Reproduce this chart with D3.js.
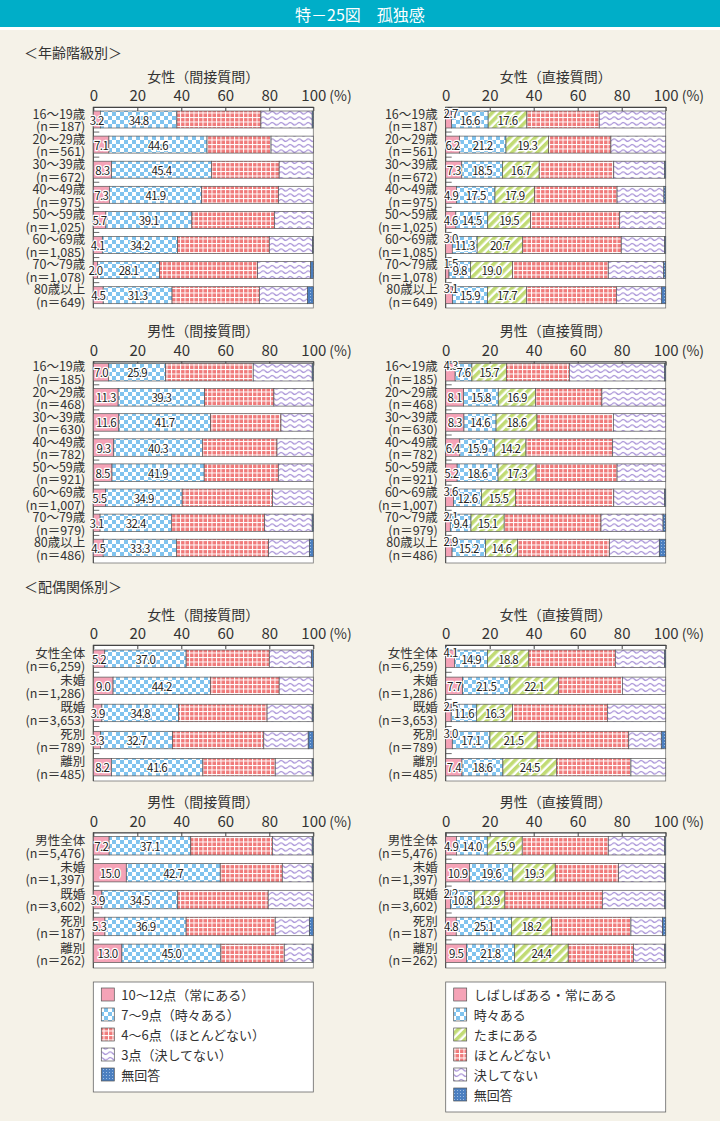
<!DOCTYPE html>
<html>
<head>
<meta charset="utf-8">
<script src="https://cdn.jsdelivr.net/npm/d3@7"></script>
<style>
  body { margin: 0; background: #f5f2e8; }
  svg { display: block; font-family: "Noto Sans CJK JP", "Noto Sans", sans-serif; }
</style>
</head>
<body>
<div id="chart"></div>
<script>
// ---- data ----
const ageCats = ["16～19歳", "20～29歳", "30～39歳", "40～49歳", "50～59歳", "60～69歳", "70～79歳", "80歳以上"];
const fAgeN = ["187", "561", "672", "975", "1,025", "1,085", "1,078", "649"];
const mAgeN = ["185", "468", "630", "782", "921", "1,007", "979", "486"];
const fMarCats = ["女性全体", "未婚", "既婚", "死別", "離別"];
const mMarCats = ["男性全体", "未婚", "既婚", "死別", "離別"];
const fMarN = ["6,259", "1,286", "3,653", "789", "485"];
const mMarN = ["5,476", "1,397", "3,602", "187", "262"];

const indKeys = ["10～12点（常にある）", "7～9点（時々ある）", "4～6点（ほとんどない）", "3点（決してない）", "無回答"];
const dirKeys = ["しばしばある・常にある", "時々ある", "たまにある", "ほとんどない", "決してない", "無回答"];
const ticks = [0, 20, 40, 60, 80, 100];

// rows: one array per category, values in key order (%)
const fIndAge = [
  [3.2, 34.8, 38.2, 23.3, 0.5],
  [7.1, 44.6, 29.1, 19.2, 0.0],
  [8.3, 45.4, 30.8, 15.5, 0.0],
  [7.3, 41.9, 35.0, 15.8, 0.0],
  [5.7, 39.1, 37.5, 17.7, 0.0],
  [4.1, 34.2, 41.7, 19.6, 0.4],
  [2.0, 28.1, 44.6, 24.1, 1.2],
  [4.5, 31.3, 39.7, 21.8, 2.7]
];
const fDirAge = [
  [2.7, 16.6, 17.6, 32.9, 30.2, 0.0],
  [6.2, 21.2, 19.3, 28.4, 24.9, 0.0],
  [7.3, 18.5, 16.7, 33.9, 23.0, 0.6],
  [4.9, 17.5, 17.9, 37.6, 21.3, 0.8],
  [4.6, 14.5, 19.5, 40.5, 20.9, 0.0],
  [3.0, 11.3, 20.7, 44.8, 19.7, 0.5],
  [1.5, 9.8, 19.0, 43.6, 25.2, 0.9],
  [3.1, 15.9, 17.7, 40.9, 20.6, 1.8]
];
const mIndAge = [
  [7.0, 25.9, 39.8, 26.8, 0.5],
  [11.3, 39.3, 31.5, 17.9, 0.0],
  [11.6, 41.7, 32.0, 14.7, 0.0],
  [9.3, 40.3, 33.9, 16.5, 0.0],
  [8.5, 41.9, 33.7, 15.9, 0.0],
  [5.5, 34.9, 41.1, 18.5, 0.0],
  [3.1, 32.4, 42.4, 21.6, 0.5],
  [4.5, 33.3, 41.9, 18.5, 1.8]
];
const mDirAge = [
  [4.3, 7.6, 15.7, 28.6, 43.2, 0.6],
  [8.1, 15.8, 16.9, 30.2, 29.0, 0.0],
  [8.3, 14.6, 18.6, 34.7, 23.8, 0.0],
  [6.4, 15.9, 14.2, 39.4, 24.1, 0.0],
  [5.2, 18.6, 17.3, 36.8, 22.1, 0.0],
  [3.6, 12.6, 15.5, 44.7, 23.0, 0.6],
  [2.1, 9.4, 15.1, 44.0, 28.2, 1.2],
  [2.9, 15.2, 14.6, 41.7, 22.7, 2.9]
];
const fIndMar = [
  [5.2, 37.0, 37.8, 19.1, 0.9],
  [9.0, 44.2, 31.3, 15.5, 0.0],
  [3.9, 34.8, 40.3, 20.5, 0.5],
  [3.3, 32.7, 41.5, 20.2, 2.3],
  [8.2, 41.6, 32.9, 16.8, 0.5]
];
const fDirMar = [
  [4.1, 14.9, 18.8, 39.3, 22.3, 0.6],
  [7.7, 21.5, 22.1, 29.0, 19.7, 0.0],
  [2.5, 11.6, 16.3, 43.1, 26.5, 0.0],
  [3.0, 17.1, 21.5, 41.6, 14.8, 2.0],
  [7.4, 18.6, 24.5, 33.7, 15.8, 0.0]
];
const mIndMar = [
  [7.2, 37.1, 37.1, 18.1, 0.5],
  [15.0, 42.7, 28.2, 13.6, 0.5],
  [3.9, 34.5, 41.1, 20.5, 0.0],
  [5.3, 36.9, 40.5, 15.5, 1.8],
  [13.0, 45.0, 28.8, 12.7, 0.5]
];
const mDirMar = [
  [4.9, 14.0, 15.9, 39.1, 25.5, 0.6],
  [10.9, 19.6, 19.3, 28.8, 20.8, 0.6],
  [2.2, 10.8, 13.9, 44.3, 28.2, 0.6],
  [4.8, 25.1, 18.2, 36.1, 14.3, 1.5],
  [9.5, 21.8, 24.4, 29.6, 14.2, 0.5]
];

// ---- layout ----
const LX = 93.3, RX = 445.7, PW = 220;
const bands = {
  age1: { axisY: 107, top: 111, step: 25.1, barH: 17, bottom: 308, titleY: 76 },
  age2: { axisY: 361.5, top: 363.5, step: 25.1, barH: 17.5, bottom: 563, titleY: 330 },
  mar1: { axisY: 645, top: 650, step: 27.1, barH: 17.5, bottom: 781, titleY: 614 },
  mar2: { axisY: 832.5, top: 836.5, step: 26.9, barH: 18.5, bottom: 968, titleY: 801 }
};
const panels = [
  { title: "女性（間接質問）", cats: ageCats, n: fAgeN, rows: fIndAge, type: "ind", x0: LX, b: bands.age1 },
  { title: "女性（直接質問）", cats: ageCats, n: fAgeN, rows: fDirAge, type: "dir", x0: RX, b: bands.age1 },
  { title: "男性（間接質問）", cats: ageCats, n: mAgeN, rows: mIndAge, type: "ind", x0: LX, b: bands.age2 },
  { title: "男性（直接質問）", cats: ageCats, n: mAgeN, rows: mDirAge, type: "dir", x0: RX, b: bands.age2 },
  { title: "女性（間接質問）", cats: fMarCats, n: fMarN, rows: fIndMar, type: "ind", x0: LX, b: bands.mar1 },
  { title: "女性（直接質問）", cats: fMarCats, n: fMarN, rows: fDirMar, type: "dir", x0: RX, b: bands.mar1 },
  { title: "男性（間接質問）", cats: mMarCats, n: mMarN, rows: mIndMar, type: "ind", x0: LX, b: bands.mar2 },
  { title: "男性（直接質問）", cats: mMarCats, n: mMarN, rows: mDirMar, type: "dir", x0: RX, b: bands.mar2 }
];
const patInd = ["pink", "blue", "red", "wave", "na"];
const patDir = ["pink", "blue", "green", "red", "wave", "na"];

const svg = d3.select("#chart").append("svg")
  .attr("width", 720).attr("height", 1121);

svg.append("rect").attr("width", 720).attr("height", 1121).attr("fill", "#f5f2e8");

// ---- patterns ----
const defs = svg.append("defs");
function pattern(id, w, h) {
  return defs.append("pattern").attr("id", id)
    .attr("patternUnits", "userSpaceOnUse").attr("width", w).attr("height", h);
}
pattern("pink", 4, 4).append("rect").attr("width", 4).attr("height", 4).attr("fill", "#f5a3b7");

let p = pattern("blue", 8, 8);
p.append("rect").attr("width", 8).attr("height", 8).attr("fill", "#ffffff");
p.append("rect").attr("width", 4).attr("height", 4).attr("fill", "#80c3ee");
p.append("rect").attr("x", 4).attr("y", 4).attr("width", 4).attr("height", 4).attr("fill", "#80c3ee");

p = pattern("green", 6, 6).attr("patternTransform", "rotate(45)");
p.append("rect").attr("width", 6).attr("height", 6).attr("fill", "#ffffff");
p.append("rect").attr("width", 3.6).attr("height", 6).attr("fill", "#c1db74");

p = pattern("red", 4.5, 4.5);
p.append("rect").attr("width", 4.5).attr("height", 4.5).attr("fill", "#f07a7a");
p.append("rect").attr("width", 4.5).attr("height", 1).attr("fill", "#ffffff");
p.append("rect").attr("width", 1).attr("height", 4.5).attr("fill", "#ffffff");

p = pattern("wave", 9, 5.5);
p.append("rect").attr("width", 9).attr("height", 5.5).attr("fill", "#ffffff");
p.append("path").attr("d", "M0,2.75 Q2.25,0.3 4.5,2.75 T9,2.75")
  .attr("fill", "none").attr("stroke", "#a189d4").attr("stroke-width", 1.1);

p = pattern("na", 3, 3);
p.append("rect").attr("width", 3).attr("height", 3).attr("fill", "#4b7fc0");
p.append("circle").attr("cx", 1.5).attr("cy", 1.5).attr("r", 0.5).attr("fill", "#b9d2ee");

// ---- header ----
svg.append("rect").attr("width", 720).attr("height", 27).attr("fill", "#00aec8");
svg.append("rect").attr("y", 27).attr("width", 720).attr("height", 3).attr("fill", "#ffffff");
svg.append("text").attr("x", 360).attr("y", 14).attr("text-anchor", "middle")
  .attr("dominant-baseline", "central").attr("fill", "#fff")
  .style("font-size", "16px").text("特－25図　孤独感");

// section labels
svg.append("text").attr("x", 24).attr("y", 52).attr("dominant-baseline", "central")
  .style("font-size", "14px").attr("fill", "#333").text("＜年齢階級別＞");
svg.append("text").attr("x", 24).attr("y", 586).attr("dominant-baseline", "central")
  .style("font-size", "14px").attr("fill", "#333").text("＜配偶関係別＞");

// ---- panels ----
panels.forEach(drawPanel);

function drawPanel(pn) {
  const b = pn.b;
  const keys = pn.type === "ind" ? patInd : patDir;
  const nLabel = pn.type === "ind" ? 2 : 3;
  const x = d3.scaleLinear().domain([0, 100]).range([pn.x0, pn.x0 + PW]);
  const y = d3.scaleBand().domain(pn.cats)
    .range([b.top, b.top + pn.cats.length * b.step]);
  const g = svg.append("g");

  // plot frame
  g.append("rect")
    .attr("x", x(0)).attr("y", b.axisY)
    .attr("width", x(100) - x(0)).attr("height", b.bottom - b.axisY)
    .attr("fill", "#fff").attr("stroke", "#777").attr("stroke-width", 0.8);

  // title
  g.append("text").attr("x", (x(0) + x(100)) / 2).attr("y", b.titleY)
    .attr("text-anchor", "middle").attr("dominant-baseline", "central")
    .style("font-size", "14px").attr("fill", "#333").text(pn.title);

  // top axis
  const ax = g.append("g").attr("transform", `translate(0,${b.axisY})`)
    .call(d3.axisTop(x).tickValues(ticks).tickSizeInner(-4).tickSizeOuter(0).tickPadding(6));
  ax.select(".domain").attr("stroke", "#444");
  ax.selectAll(".tick line").attr("stroke", "#444");
  ax.selectAll(".tick text").attr("fill", "#333")
    .style("font-size", "15px").style("font-family", "Noto Sans CJK JP, sans-serif");
  g.append("text").attr("x", x(100) + 16).attr("y", b.axisY - 6)
    .style("font-size", "14px").attr("fill", "#333").text("(%)");

  // left axis line + row ticks
  g.append("line").attr("x1", x(0)).attr("x2", x(0))
    .attr("y1", b.axisY).attr("y2", b.bottom).attr("stroke", "#444");
  pn.cats.slice(1).forEach(c => {
    const ty = y(c) - (b.step - b.barH) / 2;
    g.append("line").attr("x1", x(0)).attr("x2", x(0) + 6)
      .attr("y1", ty).attr("y2", ty).attr("stroke", "#444").attr("stroke-width", 0.8);
  });

  // category labels (one text, two lines)
  pn.cats.forEach((c, i) => {
    const cy = y(c) + b.barH / 2;
    const t = g.append("text").attr("text-anchor", "end")
      .style("font-size", "12.5px").attr("fill", "#333");
    t.append("tspan").attr("x", x(0) - 8).attr("y", cy - 6.3)
      .attr("dominant-baseline", "central").text(c);
    t.append("tspan").attr("x", x(0) - 8).attr("y", cy + 6.3)
      .attr("dominant-baseline", "central").text(`(n＝${pn.n[i]})`);
  });

  // stacked bars
  const stack = d3.stack().keys(d3.range(keys.length));
  const series = stack(pn.rows);
  series.forEach((s, k) => {
    s.forEach((seg, j) => {
      const [a, e] = seg;
      if (e - a <= 0) return;
      g.append("rect")
        .attr("x", x(a)).attr("y", y(pn.cats[j]))
        .attr("width", x(e) - x(a)).attr("height", b.barH)
        .attr("fill", `url(#${keys[k]})`)
        .attr("stroke", "#555").attr("stroke-width", 0.7);
    });
  });

  // value labels
  series.slice(0, nLabel).forEach((s, k) => {
    s.forEach((seg, j) => {
      const v = pn.rows[j][k];
      let lx = x((seg[0] + seg[1]) / 2);
      let ly = y(pn.cats[j]) + b.barH / 2;
      if (pn.type === "dir" && k === 0 && v < 4.5) {
        lx = x(0) + 5;
        ly -= 7;
      }
      g.append("text").attr("x", lx).attr("y", ly)
        .attr("text-anchor", "middle").attr("dominant-baseline", "central")
        .style("font-size", "11.5px").style("letter-spacing", "-0.6px")
        .attr("fill", "#222")
        .attr("stroke", "#fff").attr("stroke-width", 2.4)
        .attr("stroke-linejoin", "round").attr("paint-order", "stroke")
        .text(v.toFixed(1));
    });
  });
}

// ---- legends ----
function legend(x0, y0, w, keys, pats) {
  const g = svg.append("g");
  const h = keys.length * 20 + 10;
  g.append("rect").attr("x", x0).attr("y", y0).attr("width", w).attr("height", h)
    .attr("fill", "#fff").attr("stroke", "#666").attr("stroke-width", 0.8);
  keys.forEach((k, i) => {
    const cy = y0 + 12 + i * 20;
    g.append("rect").attr("x", x0 + 8).attr("y", cy - 6).attr("width", 13).attr("height", 13)
      .attr("fill", `url(#${pats[i]})`).attr("stroke", "#555").attr("stroke-width", 0.7);
    g.append("text").attr("x", x0 + 28).attr("y", cy + 0.5).attr("dominant-baseline", "central")
      .style("font-size", "13px").attr("fill", "#333").text(k);
  });
}
legend(LX, 982, PW, indKeys, patInd);
legend(RX, 982, PW, dirKeys, patDir);
</script>
</body>
</html>
